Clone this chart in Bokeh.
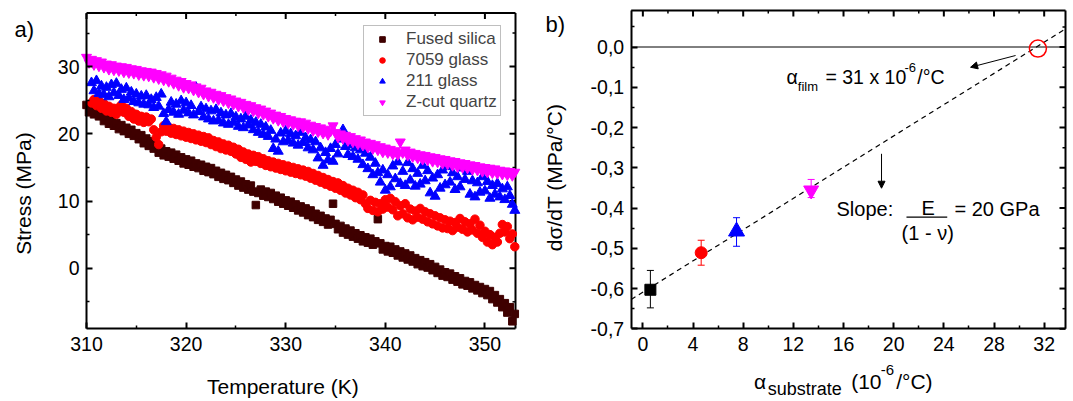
import math
from bokeh.plotting import figure
from bokeh.layouts import row
from bokeh.models import (Range1d, FixedTicker, Label, Arrow, NormalHead,
                          Whisker, TeeHead, ColumnDataSource, Legend, LegendItem)
from bokeh.embed import file_html
from bokeh.resources import INLINE

# ---------------- data: panel a) ----------------
temperature_K = [
    310.0, 310.25, 310.5, 310.75, 311.0, 311.25, 311.5, 311.75,
    312.0, 312.25, 312.5, 312.75, 313.0, 313.25, 313.5, 313.75,
    314.0, 314.25, 314.5, 314.75, 315.0, 315.25, 315.5, 315.75,
    316.0, 316.25, 316.5, 316.75, 317.0, 317.25, 317.5, 317.75,
    318.0, 318.25, 318.5, 318.75, 319.0, 319.25, 319.5, 319.75,
    320.0, 320.25, 320.5, 320.75, 321.0, 321.25, 321.5, 321.75,
    322.0, 322.25, 322.5, 322.75, 323.0, 323.25, 323.5, 323.75,
    324.0, 324.25, 324.5, 324.75, 325.0, 325.25, 325.5, 325.75,
    326.0, 326.25, 326.5, 326.75, 327.0, 327.25, 327.5, 327.75,
    328.0, 328.25, 328.5, 328.75, 329.0, 329.25, 329.5, 329.75,
    330.0, 330.25, 330.5, 330.75, 331.0, 331.25, 331.5, 331.75,
    332.0, 332.25, 332.5, 332.75, 333.0, 333.25, 333.5, 333.75,
    334.0, 334.25, 334.5, 334.75, 335.0, 335.25, 335.5, 335.75,
    336.0, 336.25, 336.5, 336.75, 337.0, 337.25, 337.5, 337.75,
    338.0, 338.25, 338.5, 338.75, 339.0, 339.25, 339.5, 339.75,
    340.0, 340.25, 340.5, 340.75, 341.0, 341.25, 341.5, 341.75,
    342.0, 342.25, 342.5, 342.75, 343.0, 343.25, 343.5, 343.75,
    344.0, 344.25, 344.5, 344.75, 345.0, 345.25, 345.5, 345.75,
    346.0, 346.25, 346.5, 346.75, 347.0, 347.25, 347.5, 347.75,
    348.0, 348.25, 348.5, 348.75, 349.0, 349.25, 349.5, 349.75,
    350.0, 350.25, 350.5, 350.75, 351.0, 351.25, 351.5, 351.75,
    352.0, 352.25, 352.5, 352.75, 353.0,
]

stress_fused_silica = [
    24.3, 23.2, 23.9, 22.9, 23.5, 22.6, 22.9, 21.9,
    22.4, 21.5, 22.0, 21.2, 21.6, 20.7, 21.3, 20.4,
    20.9, 20.0, 20.6, 19.7, 20.1, 19.2, 19.8, 18.6,
    19.3, 18.2, 18.9, 17.8, 18.3, 17.2, 17.8, 16.8,
    17.4, 16.6, 17.2, 16.3, 16.9, 16.0, 16.5, 15.6,
    16.2, 15.4, 16.0, 15.1, 15.6, 14.9, 15.4, 14.5,
    15.1, 14.3, 14.9, 14.0, 14.5, 13.6, 14.2, 13.3,
    13.9, 13.1, 13.6, 12.7, 13.2, 12.3, 12.9, 12.0,
    12.5, 11.7, 12.3, 11.4, 9.4, 11.2, 11.7, 10.8,
    11.4, 10.6, 11.2, 10.3, 10.8, 9.9, 10.5, 9.6,
    10.1, 9.3, 9.9, 9.0, 9.5, 8.6, 9.2, 8.3,
    8.9, 7.9, 8.6, 7.6, 8.1, 7.2, 7.8, 6.9,
    7.4, 6.5, 7.2, 9.6, 6.6, 5.8, 6.3, 5.3,
    5.9, 5.0, 5.6, 4.7, 5.2, 4.4, 4.9, 4.0,
    4.6, 3.8, 4.4, 3.5, 4.0, 7.3, 3.7, 2.8,
    3.3, 2.5, 3.2, 2.3, 2.8, 1.9, 2.5, 1.6,
    2.2, 1.3, 1.9, 1.0, 1.5, 0.6, 1.2, 0.3,
    0.9, 0.1, 0.6, -0.3, 0.2, -0.7, -0.2, -1.1,
    -0.6, -1.3, -0.8, -1.7, -1.2, -2.0, -1.5, -2.4,
    -1.9, -2.6, -2.1, -3.0, -2.5, -3.3, -2.8, -3.7,
    -3.1, -4.0, -3.4, -4.6, -4.0, -5.1, -4.6, -5.8,
    -5.2, -6.6, -5.8, -7.9, -6.8,
]

stress_7059_glass = [  # starts at 310.5 K
    24.6, 25.1,
    24.2, 24.9, 23.8, 24.5, 23.4, 24.1, 23.2, 23.8,
    22.9, 23.9, 24.3, 23.2, 23.8, 22.6, 23.3, 22.2,
    22.9, 21.9, 22.6, 21.7, 22.5, 21.8, 22.2, 20.6,
    19.5, 18.4, 20.3, 21.2, 20.4, 21.0, 20.1, 20.8,
    19.9, 20.6, 19.7, 20.4, 19.5, 20.2, 19.3, 20.0,
    19.1, 19.8, 18.9, 19.6, 18.7, 19.4, 18.4, 19.0,
    18.1, 18.8, 17.8, 18.5, 17.6, 18.3, 17.4, 18.0,
    17.0, 17.7, 16.5, 17.3, 16.2, 17.0, 15.8, 16.8,
    15.9, 16.6, 15.6, 16.3, 15.3, 16.0, 15.1, 15.8,
    14.9, 15.6, 14.7, 15.4, 14.5, 15.2, 14.3, 15.0,
    14.1, 14.8, 13.9, 14.6, 13.7, 14.4, 13.4, 14.1,
    13.1, 13.8, 12.8, 13.5, 12.5, 13.2, 12.2, 12.9,
    11.9, 12.7, 11.6, 12.3, 11.2, 11.9, 10.9, 11.6,
    10.5, 11.3, 10.2, 10.9, 9.6, 8.9, 10.1, 8.6,
    9.8, 8.4, 9.6, 8.8, 10.2, 9.1, 10.4, 8.7,
    9.9, 7.8, 9.3, 8.1, 9.6, 7.5, 8.8, 7.2,
    8.5, 7.6, 8.9, 7.3, 8.4, 6.9, 8.1, 6.6,
    7.8, 6.3, 7.5, 6.0, 7.2, 5.9, 7.0, 5.6,
    6.8, 6.1, 7.4, 5.8, 6.9, 5.4, 6.6, 5.7,
    7.3, 5.2, 6.4, 4.6, 5.5, 3.9, 5.0, 3.5,
    4.6, 3.9, 5.2, 6.5, 5.4, 6.2, 4.4, 5.1,
    3.2,
]

stress_211_glass = [  # starts at 310.5 K
    27.6, 26.4,
    27.9, 26.0, 27.1, 25.8, 26.9, 25.5, 27.3, 26.1,
    27.5, 25.7, 26.6, 25.1, 26.8, 25.3, 26.2, 24.8,
    25.9, 24.6, 25.6, 24.4, 25.7, 24.3, 25.1, 23.9,
    25.4, 24.1, 25.9, 23.0, 21.8, 23.6, 24.7, 23.2,
    24.4, 22.9, 24.9, 23.5, 24.6, 23.1, 24.2, 22.8,
    26.9, 23.3, 24.0, 22.5, 23.7, 22.2, 23.4, 21.9,
    23.6, 22.0, 23.1, 21.6, 22.8, 21.4, 23.0, 21.7,
    22.5, 21.1, 22.2, 20.9, 22.6, 21.3, 22.0, 20.6,
    21.7, 20.2, 21.4, 19.9, 21.0, 19.6, 20.5, 17.8,
    19.2, 17.4, 20.1, 18.8, 20.4, 19.0, 20.0, 18.6,
    19.7, 18.3, 20.2, 18.7, 19.4, 17.9, 19.1, 17.6,
    18.8, 16.4, 17.9, 15.3, 17.2, 16.1, 17.8, 15.9,
    18.4, 17.0, 19.2, 20.6, 18.1, 16.9, 18.4, 16.6,
    17.9, 16.2, 17.6, 15.4, 17.1, 14.8, 16.5, 13.9,
    15.6, 14.2, 12.8, 14.6, 11.6, 13.9, 12.1, 15.2,
    13.3, 15.8, 12.6, 14.4, 12.3, 15.7, 13.1, 14.8,
    12.2, 14.1, 12.5, 15.3, 13.0, 14.5, 11.2, 13.4,
    10.7, 13.9, 11.9, 14.6, 12.4, 15.1, 12.8, 14.2,
    11.7, 13.6, 12.1, 14.9, 13.2, 14.4, 11.0, 13.0,
    10.6, 12.7, 11.3, 13.6, 11.5, 12.9, 10.4, 12.3,
    11.0, 12.6, 10.6, 11.8, 10.2, 12.1, 10.8, 9.5,
    8.6,
]

stress_z_cut_quartz = [
    31.4, 30.6, 31.1, 30.3, 30.9, 30.1, 30.7, 29.9,
    30.4, 29.6, 30.3, 29.5, 30.1, 29.4, 30.0, 29.2,
    29.9, 29.1, 29.7, 29.0, 29.6, 28.8, 29.4, 28.7,
    29.3, 28.6, 29.2, 28.4, 29.0, 28.2, 28.8, 28.0,
    28.6, 27.8, 28.3, 27.5, 28.0, 27.2, 27.8, 26.9,
    27.5, 26.8, 27.3, 26.5, 27.0, 26.2, 26.8, 25.9,
    26.4, 25.6, 26.2, 25.4, 25.9, 25.1, 25.7, 24.9,
    25.4, 24.6, 25.2, 24.4, 24.9, 24.1, 24.7, 23.9,
    24.4, 23.6, 24.2, 23.4, 23.9, 23.1, 23.7, 22.9,
    23.4, 22.6, 23.1, 22.3, 22.8, 22.0, 22.6, 21.8,
    22.3, 21.6, 22.1, 21.4, 21.9, 21.2, 21.8, 21.0,
    21.6, 20.8, 21.3, 20.5, 21.1, 20.3, 20.9, 20.1,
    20.7, 19.9, 20.4, 21.2, 20.2, 19.5, 20.0, 19.3,
    19.8, 19.0, 19.6, 18.8, 19.3, 18.5, 19.1, 18.3,
    18.8, 18.0, 18.6, 17.8, 18.4, 17.6, 18.1, 17.3,
    17.9, 17.2, 17.7, 17.0, 17.5, 16.9, 18.8, 17.2,
    17.6, 16.8, 17.3, 16.6, 17.1, 16.4, 16.9, 16.2,
    16.8, 16.1, 16.6, 15.9, 16.5, 15.8, 16.3, 15.6,
    16.2, 15.5, 16.0, 15.3, 15.9, 15.1, 15.7, 15.0,
    15.6, 14.9, 15.4, 14.7, 15.3, 14.6, 15.1, 14.4,
    15.0, 14.3, 14.9, 14.2, 14.8, 14.1, 14.6, 14.0,
    14.5, 13.9, 14.4, 13.8, 14.3,
]

series_names = ["Fused silica", "7059 glass", "211 glass", "Z-cut quartz"]
temp_ticks = [310, 320, 330, 340, 350]
temp_minor = [315, 325, 335, 345]
stress_ticks = [0, 10, 20, 30]
stress_minor = [-5, 5, 15, 25, 35]

# ---------------- data: panel b) ----------------
alpha_substrate = [0.6, 4.65, 7.47, 13.42]
dsigma_dT = [-0.603, -0.511, -0.458, -0.356]
dsigma_upper = [-0.555, -0.480, -0.424, -0.329]
dsigma_lower = [-0.648, -0.542, -0.495, -0.374]
alpha_film = [31.5]
dsigma_film = [-0.004]
fit_x = [-0.93, 33.7]
fit_y = [-0.627, 0.045]
alpha_ticks = [0, 4, 8, 12, 16, 20, 24, 28, 32]
alpha_minor = [2, 6, 10, 14, 18, 22, 26, 30]
ds_ticks = [-0.7, -0.6, -0.5, -0.4, -0.3, -0.2, -0.1, 0.0]
ds_tick_labels = ["-0,7", "-0,6", "-0,5", "-0,4", "-0,3", "-0,2", "-0,1", "0,0"]
ds_minor = [-0.65, -0.55, -0.45, -0.35, -0.25, -0.15, -0.05, 0.05]

# ---------------- styling / layout ----------------
FONT = "Liberation Sans"
TICK_FS = "19.5px"
TITLE_FS = "21px"
BROWN = "#3f0000"
RED = "#ff0000"
BLUE = "#0000ff"
MAGENTA = "#ff00ff"

H = 401
W1, W2 = 540, 533
# plot box in figure pixels: left, right, top, bottom
BOX1 = (86.0, 515.0, 12.5, 328.0)
BOX2 = (90.7, 525.0, 10.0, 328.3)
XB1, YB1 = (310.0, 353.07), (-8.97, 37.98)
XB2, YB2 = (-0.93, 33.70), (-0.70, 0.0907)


def full_ranges(box, xb, yb, w, h):
    l, r, t, b = box
    sx = (xb[1] - xb[0]) / (r - l)
    sy = (yb[1] - yb[0]) / (b - t)
    return (xb[0] - l * sx, xb[0] + (w - l) * sx,
            yb[0] - (h - b) * sy, yb[0] + b * sy, sx, sy)


def make_fig(w, box, xb, yb, xticks, xminor, yticks, yminor, xstand, ystand):
    x0, x1, y0, y1, sx, sy = full_ranges(box, xb, yb, w, H)
    p = figure(width=w, height=H, output_backend="svg", toolbar_location=None,
               x_range=Range1d(x0, x1), y_range=Range1d(y0, y1), min_border=0,
               background_fill_color="white", border_fill_color="white")
    p.grid.visible = False
    p.outline_line_color = None
    xa, ya = p.xaxis[0], p.yaxis[0]
    xa.ticker = FixedTicker(ticks=xticks, minor_ticks=xminor)
    ya.ticker = FixedTicker(ticks=yticks, minor_ticks=yminor)
    xa.fixed_location = yb[0]
    ya.fixed_location = xb[0]
    xa.bounds = xb
    ya.bounds = yb
    for ax, st in ((xa, xstand), (ya, ystand)):
        ax.axis_line_width = 2
        ax.axis_line_color = "black"
        ax.major_tick_in = 6
        ax.major_tick_out = 0
        ax.minor_tick_in = 3
        ax.minor_tick_out = 0
        ax.major_tick_line_width = 2
        ax.minor_tick_line_width = 1.5
        ax.major_tick_line_color = "black"
        ax.minor_tick_line_color = "black"
        ax.major_label_text_font = FONT
        ax.major_label_text_font_size = TICK_FS
        ax.major_label_text_color = "black"
        ax.major_label_standoff = st
    # top and right frame lines with inward ticks
    p.segment(x0=[xb[0], xb[1]], y0=[yb[1], yb[0]], x1=[xb[1], xb[1]], y1=[yb[1], yb[1]],
              line_color="black", line_width=2)
    p.segment(x0=xticks, y0=[yb[1]] * len(xticks), x1=xticks, y1=[yb[1] - 6 * sy] * len(xticks),
              line_color="black", line_width=2)
    p.segment(x0=xminor, y0=[yb[1]] * len(xminor), x1=xminor, y1=[yb[1] - 3 * sy] * len(xminor),
              line_color="black", line_width=1.5)
    p.segment(x0=[xb[1]] * len(yticks), y0=yticks, x1=[xb[1] - 6 * sx] * len(yticks), y1=yticks,
              line_color="black", line_width=2)
    p.segment(x0=[xb[1]] * len(yminor), y0=yminor, x1=[xb[1] - 3 * sx] * len(yminor), y1=yminor,
              line_color="black", line_width=1.5)
    return p


def lab(p, x, y, text, size, align="left", angle=0.0):
    # (x, y) is the vertical middle of the text line
    p.add_layout(Label(x=x, y=y, text=text, text_font=FONT, text_font_size=size,
                       text_color="black", text_align=align, text_baseline="middle",
                       angle=angle))


def tail(xs, ys):
    n = min(len(xs), len(ys))
    return xs[len(xs) - n:], ys[len(ys) - n:]


# ================= panel a =================
p1 = make_fig(W1, BOX1, XB1, YB1, temp_ticks, temp_minor, stress_ticks, stress_minor, 8, 7)

x_fs, y_fs = tail(temperature_K, stress_fused_silica)
x_70, y_70 = tail(temperature_K, stress_7059_glass)
x_21, y_21 = tail(temperature_K, stress_211_glass)
x_zq, y_zq = tail(temperature_K, stress_z_cut_quartz)

r_fs = p1.scatter(x_fs, y_fs, marker="square", size=7.5, fill_color=BROWN, line_color=BROWN)
r_70 = p1.scatter(x_70, y_70, marker="circle", size=8.5, fill_color=RED, line_color=RED)
r_21 = p1.scatter(x_21, y_21, marker="triangle", size=10, fill_color=BLUE, line_color=BLUE)
r_zq = p1.scatter(x_zq, y_zq, marker="inverted_triangle", size=10, fill_color=MAGENTA,
                  line_color=MAGENTA)

legend = Legend(items=[LegendItem(label=series_names[0], renderers=[r_fs]),
                       LegendItem(label=series_names[1], renderers=[r_70]),
                       LegendItem(label=series_names[2], renderers=[r_21]),
                       LegendItem(label=series_names[3], renderers=[r_zq])],
                location=(363, 285.5), padding=3, spacing=1,
                label_text_font=FONT, label_text_font_size="17px", label_standoff=9,
                glyph_width=30, glyph_height=14, label_height=20,
                border_line_color="#808080", border_line_width=1,
                background_fill_color="white", background_fill_alpha=1.0)
p1.add_layout(legend)

lab(p1, 302.77, 35.55, "a)", "22px")
lab(p1, 303.67, 11.12, "Stress (MPa)", TITLE_FS, align="center", angle=math.pi / 2)
lab(p1, 329.71, -17.54, "Temperature (K)", TITLE_FS, align="center")

# ================= panel b =================
p2 = make_fig(W2, BOX2, XB2, YB2, alpha_ticks, alpha_minor, ds_ticks, ds_minor, 8, 7)
p2.yaxis[0].major_label_overrides = dict(zip(ds_ticks, ds_tick_labels))

p2.segment(x0=[XB2[0]], y0=[0.0], x1=[XB2[1]], y1=[0.0], line_color="black", line_width=1)
p2.line(fit_x, fit_y, line_color="black", line_width=1.2, line_dash="5 4")

colors_b = ["black", RED, BLUE, MAGENTA]
markers_b = ["square", "circle", "triangle", "inverted_triangle"]
sizes_b = [11, 12, 16, 15]
for i in range(len(alpha_substrate)):
    src = ColumnDataSource(dict(x=[alpha_substrate[i]], up=[dsigma_upper[i]], lo=[dsigma_lower[i]]))
    p2.add_layout(Whisker(source=src, base="x", upper="up", lower="lo", dimension="height",
                          line_color=colors_b[i], line_width=1,
                          upper_head=TeeHead(size=7, line_color=colors_b[i], line_width=1),
                          lower_head=TeeHead(size=7, line_color=colors_b[i], line_width=1)))
for i in range(len(alpha_substrate)):
    p2.scatter([alpha_substrate[i]], [dsigma_dT[i]], marker=markers_b[i], size=sizes_b[i],
               fill_color=colors_b[i], line_color=colors_b[i])

p2.scatter(alpha_film, dsigma_film, marker="circle", size=17, fill_color=None,
           line_color=RED, line_width=1.5)

p2.add_layout(Arrow(x_start=29.72, y_start=-0.0211, x_end=26.13, y_end=-0.0502,
                    line_color="black", line_width=1,
                    end=NormalHead(size=7, fill_color="black", line_color="black", line_width=1)))
p2.add_layout(Arrow(x_start=19.03, y_start=-0.2653, x_end=19.03, y_end=-0.3508,
                    line_color="black", line_width=1,
                    end=NormalHead(size=7, fill_color="black", line_color="black", line_width=1)))

# alpha_film annotation
lab(p2, 11.46, -0.0745, "\u03b1", "19.5px")
lab(p2, 12.36, -0.0985, "film", "13px")
lab(p2, 14.56, -0.0745, "= 31 x 10", "19.5px")
lab(p2, 20.86, -0.0513, "-6", "13px")
lab(p2, 21.88, -0.0745, "/\u00b0C", "19.5px")

# slope annotation
lab(p2, 15.44, -0.4012, "Slope:", "20px")
lab(p2, 22.74, -0.3988, "E", "20px", align="center")
p2.segment(x0=[21.02], y0=[-0.4224], x1=[24.27], y1=[-0.4224], line_color="black", line_width=1.2)
lab(p2, 20.63, -0.4609, "(1 - \u03bd)", "20px")
lab(p2, 24.85, -0.4012, "= 20 GPa", "20px")

# panel label and axis titles
lab(p2, -7.76, 0.0564, "b)", "22px")
lab(p2, -7.08, -0.324, "d\u03c3/dT (MPa/\u00b0C)", TITLE_FS, align="center", angle=math.pi / 2)
lab(p2, 8.86, -0.830, "\u03b1", TITLE_FS)
lab(p2, 9.95, -0.850, "substrate", "18px")
lab(p2, 16.61, -0.830, "(10", TITLE_FS)
lab(p2, 18.97, -0.802, "-6", "15px")
lab(p2, 20.20, -0.830, "/\u00b0C)", TITLE_FS)

layout = row(p1, p2)
open("out.html", "w").write(file_html(layout, INLINE))
